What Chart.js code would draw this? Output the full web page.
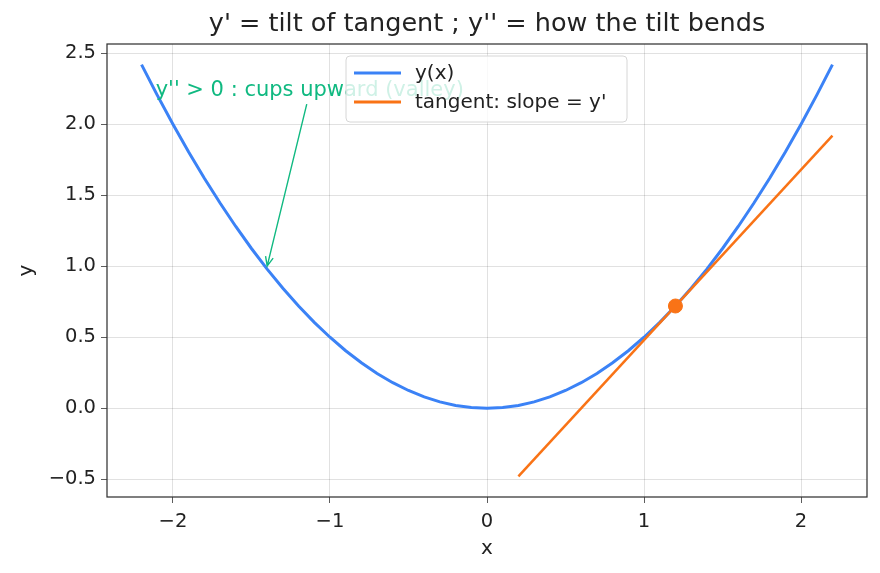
<!DOCTYPE html>
<html lang="en">
<head>
    <meta charset="UTF-8">
    <title>y' = tilt of tangent</title>
    <script src="https://cdn.jsdelivr.net/npm/chart.js"></script>
    <style>
        body { margin: 0; background: #ffffff; }
        .wrap { width: 880px; height: 573px; }
    </style>
</head>
<body>
    <div class="wrap"><canvas id="tiltChart" width="880" height="573"></canvas></div>

    <script>
        // curve y(x)
        const curveX = [-2.2, -2.1, -2.0, -1.9, -1.8, -1.7, -1.6, -1.5, -1.4, -1.3, -1.2, -1.1, -1.0, -0.9, -0.8, -0.7, -0.6, -0.5, -0.4, -0.3, -0.2, -0.1, 0,
                        0.1, 0.2, 0.3, 0.4, 0.5, 0.6, 0.7, 0.8, 0.9, 1.0, 1.1, 1.2, 1.3, 1.4, 1.5, 1.6, 1.7, 1.8, 1.9, 2.0, 2.1, 2.2];
        const curveY = [2.42, 2.205, 2.0, 1.805, 1.62, 1.445, 1.28, 1.125, 0.98, 0.845, 0.72, 0.605, 0.5, 0.405, 0.32, 0.245, 0.18, 0.125, 0.08, 0.045, 0.02, 0.005, 0,
                        0.005, 0.02, 0.045, 0.08, 0.125, 0.18, 0.245, 0.32, 0.405, 0.5, 0.605, 0.72, 0.845, 0.98, 1.125, 1.28, 1.445, 1.62, 1.805, 2.0, 2.205, 2.42];
        // tangent line and touching point
        const tangentX = [0.2, 2.2];
        const tangentY = [-0.48, 1.92];
        const touchPoint = [1.2, 0.72];
        // annotation
        const noteText = "y'' > 0 : cups upward (valley)";
        const noteAt = [-2.11, 2.24];
        const noteArrowTo = [-1.4, 0.98];

        const xTicks = [-2, -1, 0, 1, 2];
        const yTicks = [-0.5, 0.0, 0.5, 1.0, 1.5, 2.0, 2.5];
        const legendLabels = ['y(x)', 'tangent: slope = y\''];

        const BLUE = '#3b82f6';
        const ORANGE = '#f97316';
        const GREEN = '#10b981';
        const FONT = '"DejaVu Sans", sans-serif';

        function pts(xs, ys) { return xs.map((x, i) => ({ x: x, y: ys[i] })); }
        function fmt(v, d) { let s = Math.abs(v).toFixed(d); return v < 0 ? '\u2212' + s : s; }

        const extras = {
            id: 'extras',
            afterDatasetsDraw(chart) {
                const ctx = chart.ctx, xs = chart.scales.x, ys = chart.scales.y;
                // annotation text + arrow
                ctx.save();
                ctx.font = '21px ' + FONT;
                ctx.fillStyle = GREEN;
                ctx.textBaseline = 'middle';
                ctx.textAlign = 'left';
                const tx = xs.getPixelForValue(noteAt[0]);
                const ty = ys.getPixelForValue(noteAt[1]);
                ctx.fillText(noteText, tx, ty);
                const w = ctx.measureText(noteText).width;
                const sx = tx + w / 2 - 3, sy = ty + 14;
                const ex = xs.getPixelForValue(noteArrowTo[0]);
                const ey = ys.getPixelForValue(noteArrowTo[1]) - 3;
                ctx.strokeStyle = GREEN;
                ctx.lineWidth = 1.4;
                ctx.beginPath();
                ctx.moveTo(sx, sy);
                ctx.lineTo(ex, ey);
                const a = Math.atan2(ey - sy, ex - sx);
                ctx.moveTo(ex - 10 * Math.cos(a - 0.4), ey - 10 * Math.sin(a - 0.4));
                ctx.lineTo(ex, ey);
                ctx.lineTo(ex - 10 * Math.cos(a + 0.4), ey - 10 * Math.sin(a + 0.4));
                ctx.stroke();
                ctx.restore();
            },
            afterDraw(chart) {
                const ctx = chart.ctx, area = chart.chartArea;
                ctx.save();
                // frame
                ctx.strokeStyle = '#333333';
                ctx.lineWidth = 1.25;
                ctx.strokeRect(area.left, area.top, area.right - area.left, area.bottom - area.top);
                // legend
                const lx = 346, ly = 56, lw = 281, lh = 66;
                ctx.beginPath();
                ctx.roundRect(lx, ly, lw, lh, 4);
                ctx.fillStyle = 'rgba(255,255,255,0.8)';
                ctx.fill();
                ctx.strokeStyle = '#d6d6d6';
                ctx.lineWidth = 1;
                ctx.stroke();
                const colors = [BLUE, ORANGE];
                const rows = [73, 102];
                ctx.font = '20px ' + FONT;
                ctx.textBaseline = 'middle';
                ctx.fillStyle = '#222222';
                legendLabels.forEach((lab, i) => {
                    ctx.strokeStyle = colors[i];
                    ctx.lineWidth = 3;
                    ctx.beginPath();
                    ctx.moveTo(354, rows[i]);
                    ctx.lineTo(401, rows[i]);
                    ctx.stroke();
                    ctx.fillText(lab, 415, rows[i] + 1);
                });
                // title
                ctx.font = '25.5px ' + FONT;
                ctx.textAlign = 'center';
                ctx.textBaseline = 'middle';
                ctx.fillText("y' = tilt of tangent ; y'' = how the tilt bends", (area.left + area.right) / 2, 24);
                ctx.restore();
            }
        };

        new Chart(document.getElementById('tiltChart'), {
            type: 'scatter',
            data: {
                datasets: [
                    { label: legendLabels[0], data: pts(curveX, curveY), showLine: true, borderColor: BLUE, borderWidth: 3, pointRadius: 0, order: 3 },
                    { label: legendLabels[1], data: pts(tangentX, tangentY), showLine: true, borderColor: ORANGE, borderWidth: 2.5, pointRadius: 0, order: 2 },
                    { label: 'point', data: [{ x: touchPoint[0], y: touchPoint[1] }], backgroundColor: ORANGE, borderColor: ORANGE, pointRadius: 7, order: 1 }
                ]
            },
            options: {
                responsive: false,
                animation: false,
                layout: { padding: { top: 44, right: 13, left: 0, bottom: 0 } },
                plugins: { legend: { display: false }, title: { display: false }, tooltip: { enabled: false } },
                scales: {
                    x: {
                        type: 'linear', min: -2.42, max: 2.42,
                        afterFit: s => { s.height = 76; },
                        afterBuildTicks: s => { s.ticks = xTicks.map(v => ({ value: v })); },
                        grid: { color: 'rgba(0,0,0,0.15)', lineWidth: 0.8, tickLength: 6, tickColor: '#333' },
                        border: { display: false },
                        ticks: { color: '#222', font: { family: FONT, size: 19.5 }, padding: 7, callback: v => fmt(v, 0) },
                        title: { display: true, text: 'x', color: '#222', font: { family: FONT, size: 20 }, padding: { top: 12, bottom: 12 } }
                    },
                    y: {
                        type: 'linear', min: -0.625, max: 2.565,
                        afterFit: s => { s.width = 107; },
                        afterBuildTicks: s => { s.ticks = yTicks.map(v => ({ value: v })); },
                        grid: { color: 'rgba(0,0,0,0.15)', lineWidth: 0.8, tickLength: 6, tickColor: '#333' },
                        border: { display: false },
                        ticks: { color: '#222', font: { family: FONT, size: 19.5 }, padding: 5, callback: v => fmt(v, 1) },
                        title: { display: true, text: 'y', color: '#222', font: { family: FONT, size: 20 }, padding: { top: 15, bottom: 15 } }
                    }
                }
            },
            plugins: [extras]
        });
    </script>
</body>
</html>
